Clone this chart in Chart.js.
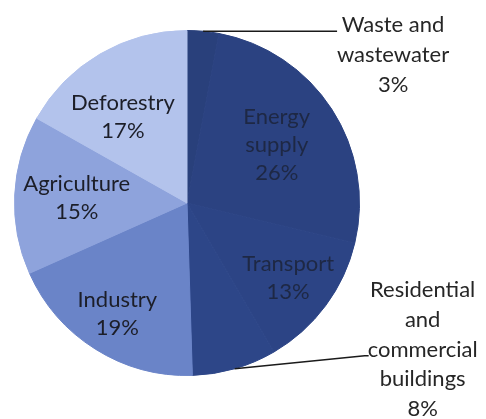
<!DOCTYPE html>
<html>
<head>
  <meta charset="UTF-8">
  <title>Greenhouse gas emissions by sector</title>
  <script src="https://cdn.jsdelivr.net/npm/chart.js"></script>
  <style>
    body {
      margin: 0;
      background: #ffffff;
    }
    #pie {
      display: block;
    }
  </style>
</head>
<body>
  <canvas id="pie" width="486" height="419"></canvas>

  <script>
    // sectors in clockwise order starting from 12 o'clock
    const categories = ["Waste and wastewater", "Energy supply", "Transport",
      "Residential and commercial buildings", "Industry", "Agriculture", "Deforestry"];
    const shares = [3, 26, 13, 8, 19, 15, 17];
    const labelLines = [
      ["Waste and", "wastewater"],
      ["Energy", "supply"],
      ["Transport"],
      ["Residential", "and", "commercial", "buildings"],
      ["Industry"],
      ["Agriculture"],
      ["Deforestry"]
    ];

    const sliceColors = ["#29407b", "#2b4281", "#2c4485", "#2d4688", "#6a84c8", "#8ea3dc", "#b3c3ec"];
    const textColors = ["#262626", "#1e2844", "#1e2844", "#262626", "#1c1e28", "#1c1e28", "#1c1e28"];
    // inside labels: fraction of radius and angular nudge (deg); null = outside label with leader line
    const labelRadius = [null, 0.62, 0.73, null, 0.76, 0.64, 0.62];
    const labelNudge = [0, 0, 0, 0, 0, 0, -6.5];
    // leader line offsets from the slice edge for the outside labels
    const leaders = {
      0: { dx: 134, dy: 0, textDx: 56, firstLine: 0 },
      3: { dx: 130, dy: -13, textDx: 58, firstLine: -2 }
    };

    const FONT = "22px Lato, 'Open Sans', sans-serif";
    const LINE_IN = 28;
    const LINE_OUT = 29.7;

    const sliceLabels = {
      id: "sliceLabels",
      afterDatasetsDraw(chart) {
        const ctx = chart.ctx;
        const meta = chart.getDatasetMeta(0);
        ctx.save();
        ctx.font = FONT;
        ctx.textAlign = "center";

        meta.data.forEach((arc, i) => {
          const p = arc.getProps(["x", "y", "startAngle", "endAngle", "outerRadius"], true);
          const mid = (p.startAngle + p.endAngle) / 2;
          const lines = labelLines[i].concat([shares[i] + "%"]);
          ctx.fillStyle = textColors[i];

          if (labelRadius[i] !== null) {
            const a = mid + labelNudge[i] * Math.PI / 180;
            const r = p.outerRadius * labelRadius[i];
            const cx = p.x + Math.cos(a) * r;
            const cy = p.y + Math.sin(a) * r;
            ctx.textBaseline = "middle";
            const top = cy - (lines.length - 1) * LINE_IN / 2;
            lines.forEach((t, k) => ctx.fillText(t, cx, top + k * LINE_IN));
          } else {
            const l = leaders[i];
            const ex = p.x + Math.cos(mid) * p.outerRadius;
            const ey = p.y + Math.sin(mid) * p.outerRadius;
            const lx = ex + l.dx;
            const ly = ey + l.dy;
            ctx.strokeStyle = "#1a1a1a";
            ctx.lineWidth = 1.5;
            ctx.beginPath();
            ctx.moveTo(ex, ey);
            ctx.lineTo(lx, ly);
            if (l.firstLine !== 0) ctx.lineTo(lx + 4, ly);
            ctx.stroke();

            ctx.textBaseline = "alphabetic";
            const firstBase = ly + 1 + l.firstLine * LINE_OUT;
            lines.forEach((t, k) => ctx.fillText(t, lx + l.textDx, firstBase + k * LINE_OUT));
          }
        });
        ctx.restore();
      }
    };

    new Chart(document.getElementById("pie"), {
      type: "pie",
      data: {
        labels: categories,
        datasets: [{
          data: shares,
          backgroundColor: sliceColors,
          // stroke each slice in its own colour so no seams show between them
          borderColor: sliceColors,
          borderWidth: 1
        }]
      },
      options: {
        responsive: false,
        animation: false,
        layout: {
          padding: { left: 14, top: 30, right: 126, bottom: 43 }
        },
        plugins: {
          legend: { display: false },
          tooltip: { enabled: false }
        }
      },
      plugins: [sliceLabels]
    });
  </script>
</body>
</html>
